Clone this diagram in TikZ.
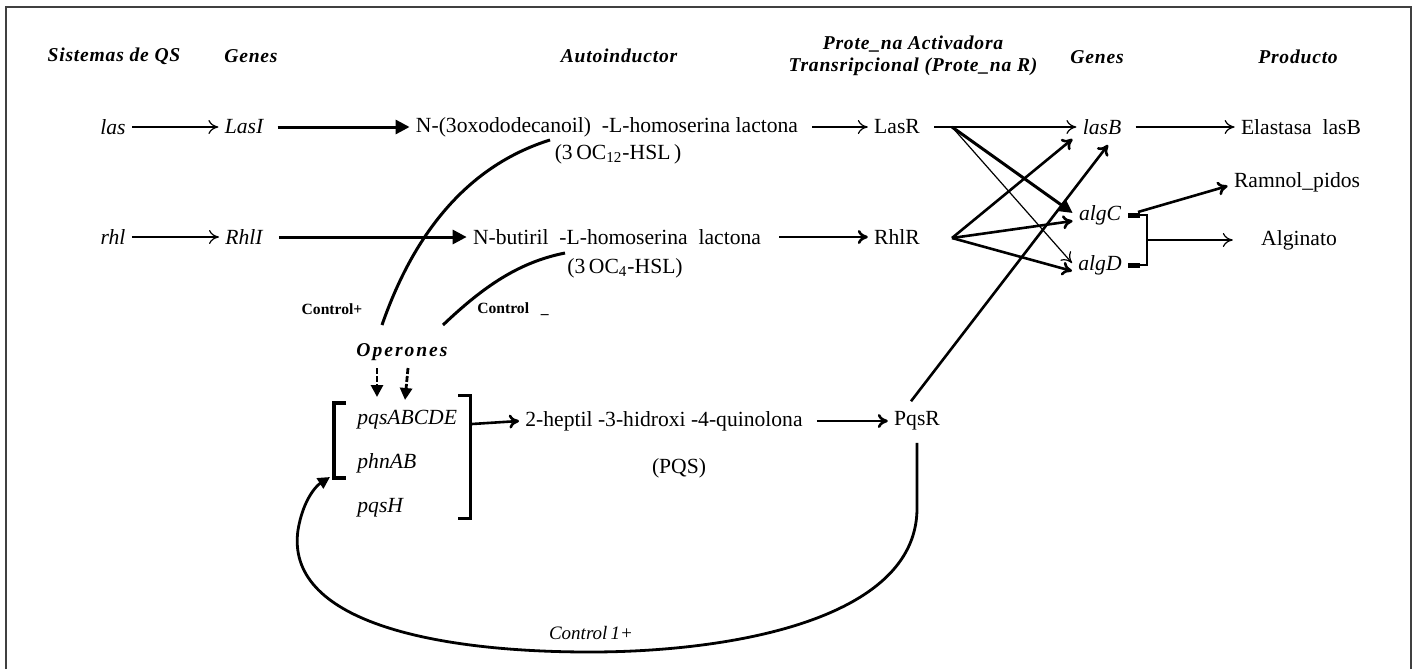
\documentclass[tikz,border=0pt]{standalone}
\usepackage{fontspec}
\setmainfont{Liberation Serif}
\usetikzlibrary{arrows.meta}
\begin{document}
\begin{tikzpicture}[x=0.5pt,y=-0.5pt,
  txt/.style={font=\fontsize{10.8}{13}\selectfont, inner sep=3pt},
  gene/.style={font=\fontsize{10.8}{13}\selectfont\itshape, inner sep=3pt},
  hdr/.style={font=\fontsize{9.8}{11}\selectfont\bfseries\itshape\addfontfeature{LetterSpace=4}, inner sep=1pt, align=center},
  ctl/.style={font=\fontsize{7.8}{9}\selectfont\bfseries, inner sep=1pt},
  thinarr/.style={-{To[length=5pt,width=7pt]}, line width=0.6pt},
  medarr/.style={-{To[length=5pt,width=7pt]}, line width=1.3pt},
  thickarr/.style={-{Triangle[length=7pt,width=7pt]}, line width=1.5pt},
  curve/.style={line width=1.5pt},
  brk/.style={line width=1.5pt}]
\useasboundingbox (0,0) rectangle (1416,669);
\draw[black!75, line width=1pt] (6,669) -- (6,7) -- (1411,7) -- (1411,669);

% headers
\node[hdr] (h1) at (114,56) {Sistemas de QS};
\node[hdr] (h2) at (251,56) {Genes};
\node[hdr] (h3) at (619,56) {Autoinductor};
\node[hdr] (h4) at (913,56) {Prote\_na Activadora\\Transripcional (Prote\_na R)};
\node[hdr] (h5) at (1097,57) {Genes};
\node[hdr] (h6) at (1298,57) {Producto};

% row 1
\node[gene] (las) at (113,127) {las};
\node[gene] (LasI) at (244,127) {LasI};
\node[txt] (ahl1) at (607,127) {N-(3oxododecanoil)\ \ -L-homoserina lactona};
\node[txt] (ahl1s) at (618,154) {(3\,OC\textsubscript{12}-HSL\,)};
\node[txt] (LasR) at (897,127) {LasR};
\node[gene] (lasB) at (1102,127) {lasB};
\node[txt] (elast) at (1301,127) {Elastasa\ \ lasB};

% row 2
\node[gene] (rhl) at (113,237) {rhl};
\node[gene] (RhlI) at (244,237) {RhlI};
\node[txt] (ahl2) at (617,237) {N-butiril\ \ -L-homoserina\ \ lactona};
\node[txt] (ahl2s) at (625,268) {(3\,OC\textsubscript{4}-HSL)};
\node[txt] (RhlR) at (897,237) {RhlR};
\node[gene] (algC) at (1100,215) {algC};
\node[gene] (algD) at (1100,265) {algD};
\node[txt] (ramn) at (1297,182) {Ramnol\_pidos};
\node[txt] (algin) at (1299,240) {Alginato};

% controls
\node[ctl] (c1) at (332,309) {Control+};
\node[ctl] (c2) at (513,309) {Control\ \ \ \_};
\node[hdr, font=\fontsize{9.8}{11}\selectfont\bfseries\itshape\addfontfeature{LetterSpace=10}] (oper) at (402,352) {Operones};

% row 3
\node[gene, anchor=west, inner sep=1pt] (pqsA) at (355,420) {pqsABCDE};
\node[gene, anchor=west, inner sep=1pt] (phn) at (355,463) {phnAB};
\node[gene, anchor=west, inner sep=1pt] (pqsH) at (355,508) {pqsH};
\node[txt] (hq) at (664,421) {2-heptil -3-hidroxi -4-quinolona};
\node[txt] (pqs) at (679,468) {(PQS)};
\node[txt] (PqsR) at (917,421) {PqsR};
\node[font=\fontsize{9.5}{11}\selectfont\itshape, inner sep=1pt] (c3) at (591,633) {Control\,1+};

% brackets
\coordinate (lb1) at (346,403); \coordinate (lb2) at (334,403);
\coordinate (lb3) at (334,478); \coordinate (lb4) at (346,478);
\draw[line width=2pt] (lb1) -- (lb2) -- (lb3) -- (lb4);
\coordinate (rb1) at (458,395); \coordinate (rb2) at (470,395);
\coordinate (rb3) at (470,518); \coordinate (rb4) at (458,518);
\draw[brk] (rb1) -- (rb2) -- (rb3) -- (rb4);
\coordinate (rbm) at (472,424);

% row 1 arrows
\draw[thinarr] (las) -- (LasI);
\draw[thickarr] (LasI.east) ++(8,0) -- (ahl1.west);
\draw[thinarr] (ahl1.east) ++(8,0) -- (LasR.west);
\draw[thinarr] (LasR.east) ++(8,0) -- (lasB.west);
\draw[thinarr] (lasB.east) ++(8,0) -- (elast.west);

% row 2 arrows
\draw[thinarr] (rhl) -- (RhlI);
\draw[thickarr] (RhlI.east) ++(10,0) -- (ahl2.west);
\draw[medarr] (ahl2.east) ++(12,0) -- (RhlR.west);

% row 3 arrows
\draw[medarr] (rbm) -- (hq.west);
\draw[medarr] (hq.east) ++(8,0) -- (PqsR.west);

% cross arrows
\coordinate (lasRo) at (952,127);
\coordinate (rhlRo) at (952,238);
\draw[thickarr] (lasRo) -- ([yshift=1pt]algC.west);
\draw[thinarr] (lasRo) -- ([yshift=1pt]algD.west);
\draw[medarr] (rhlRo) -- ([xshift=-2pt,yshift=1pt]lasB.south west);
\draw[medarr] (rhlRo) -- ([yshift=-3pt]algC.west);
\draw[medarr] (rhlRo) -- ([yshift=-3pt]algD.west);
\draw[medarr] ([xshift=-3pt,yshift=2pt]PqsR.north) -- ([xshift=3pt,yshift=-2pt]lasB.south);

% alg bracket
\coordinate (ct1) at (1128,215); \coordinate (ct2) at (1147,215);
\coordinate (dt1) at (1128,265); \coordinate (dt2) at (1147,265);
\coordinate (am) at (1147,240);
\draw[line width=2.5pt] (ct1) -- (1140,215);
\draw[line width=2.5pt] (dt1) -- (1140,265);
\draw[line width=1.2pt] (1139,215) -- (ct2) -- (dt2) -- (1139,265);
\draw[thinarr] (am) -- ([xshift=-11pt]algin.west);
\draw[medarr] (1138,212) -- ([yshift=-2pt]ramn.west);

% control curves
\draw[curve] (382,325) .. controls (415,230) and (470,165) .. (550,140);
\draw[curve] (443,325) .. controls (485,285) and (520,262) .. (565,253);
\draw[line width=1.4pt, dashed, dash pattern=on 3pt off 1pt, -{Triangle[length=6pt,width=6pt]}] (377,368) -- (377,397);
\draw[line width=1.4pt, dashed, dash pattern=on 3pt off 1pt, -{Triangle[length=6pt,width=6pt]}] (408,368) -- (405,400);

% big loop
\draw[line width=1.4pt, -{Triangle[length=6pt,width=6pt]}] (PqsR.south) ++(0,6) -- (917,510)
  .. controls (915,620) and (730,652) .. (590,652)
  .. controls (430,652) and (285,620) .. (298,530)
  .. controls (303,500) and (316,486) .. (330,477);
\end{tikzpicture}
\end{document}
